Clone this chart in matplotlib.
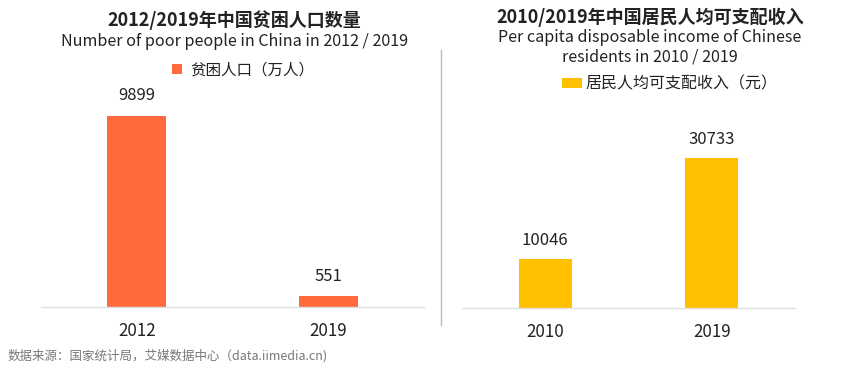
import matplotlib
matplotlib.use('Agg')
import matplotlib.pyplot as plt
from matplotlib.lines import Line2D

plt.rcParams['font.family'] = ['Noto Sans CJK SC', 'DejaVu Sans']

# 数据
poor_years = ['2012', '2019']
poor_values = [9899, 551]
income_years = ['2010', '2019']
income_values = [10046, 30733]

W, H = 846, 366
fig = plt.figure(figsize=(W / 100, H / 100), dpi=100)


def px(x0, y0, x1, y1):
    # 像素坐标 -> figure 比例
    return [x0 / W, 1 - y1 / H, (x1 - x0) / W, (y1 - y0) / H]


text_c = '#222222'

# 左图：贫困人口
ax1 = fig.add_axes(px(41, 60, 424, 307))
b1 = ax1.bar(range(len(poor_years)), poor_values, width=0.31, color='#FF6B3D',
             label='贫困人口（万人）')
ax1.set_xlim(-0.5, 1.5)
ax1.set_ylim(0, 9899 * 247 / 191)
for i, v in enumerate(poor_values):
    ax1.text(i, v + 600, str(v), ha='center', va='bottom', fontsize=12, color=text_c)

# 右图：人均可支配收入
ax2 = fig.add_axes(px(462, 60, 795, 308))
b2 = ax2.bar(range(len(income_years)), income_values, width=0.32, color='#FFC000',
             label='居民人均可支配收入（元）')
ax2.set_xlim(-0.5, 1.5)
ax2.set_ylim(0, 30733 * 248 / 150)
for i, v in enumerate(income_values):
    ax2.text(i, v + 2100, str(v), ha='center', va='bottom', fontsize=12, color=text_c)

for ax, labels in [(ax1, poor_years), (ax2, income_years)]:
    for s in ['top', 'right', 'left']:
        ax.spines[s].set_visible(False)
    ax.spines['bottom'].set_color('#e0e0e0')
    ax.spines['bottom'].set_linewidth(1)
    ax.set_yticks([])
    ax.set_xticks(range(len(labels)))
    ax.set_xticklabels(labels, fontsize=12.2, color=text_c)
    ax.tick_params(axis='x', length=0, pad=11)

# 标题
fig.text(234 / W, 1 - 20 / H, '2012/2019年中国贫困人口数量', ha='center', va='center',
         fontsize=13, fontweight='bold', color=text_c)
fig.text(235 / W, 1 - 42 / H, 'Number of poor people in China in 2012 / 2019', ha='center',
         va='center', fontsize=11.6, color=text_c)
fig.text(650 / W, 1 - 17 / H, '2010/2019年中国居民人均可支配收入', ha='center', va='center',
         fontsize=13, fontweight='bold', color=text_c)
fig.text(650 / W, 1 - 37 / H, 'Per capita disposable income of Chinese', ha='center',
         va='center', fontsize=11.6, color=text_c)
fig.text(650 / W, 1 - 57 / H, 'residents in 2010 / 2019', ha='center',
         va='center', fontsize=11.6, color=text_c)

# 图例
fig.legend(handles=[b1], loc='center', bbox_to_anchor=(243 / W, 1 - 70 / H), frameon=False,
           fontsize=11.2, handlelength=0.65, handleheight=0.65, handletextpad=0.5,
           labelcolor=text_c)
fig.legend(handles=[b2], loc='center', bbox_to_anchor=(670 / W, 1 - 84 / H), frameon=False,
           fontsize=11.5, handlelength=1.25, handleheight=0.65, handletextpad=0.2,
           labelcolor=text_c)

# 分隔线
fig.add_artist(Line2D([441 / W, 441 / W], [1 - 50 / H, 1 - 325 / H], color='#bbbbbb',
                      linewidth=1, transform=fig.transFigure))

# 数据来源
fig.text(8 / W, 1 - 356 / H, '数据来源：国家统计局，艾媒数据中心（data.iimedia.cn)',
         ha='left', va='center', fontsize=9, color='#777777')

fig.savefig('out.png', dpi=100)
